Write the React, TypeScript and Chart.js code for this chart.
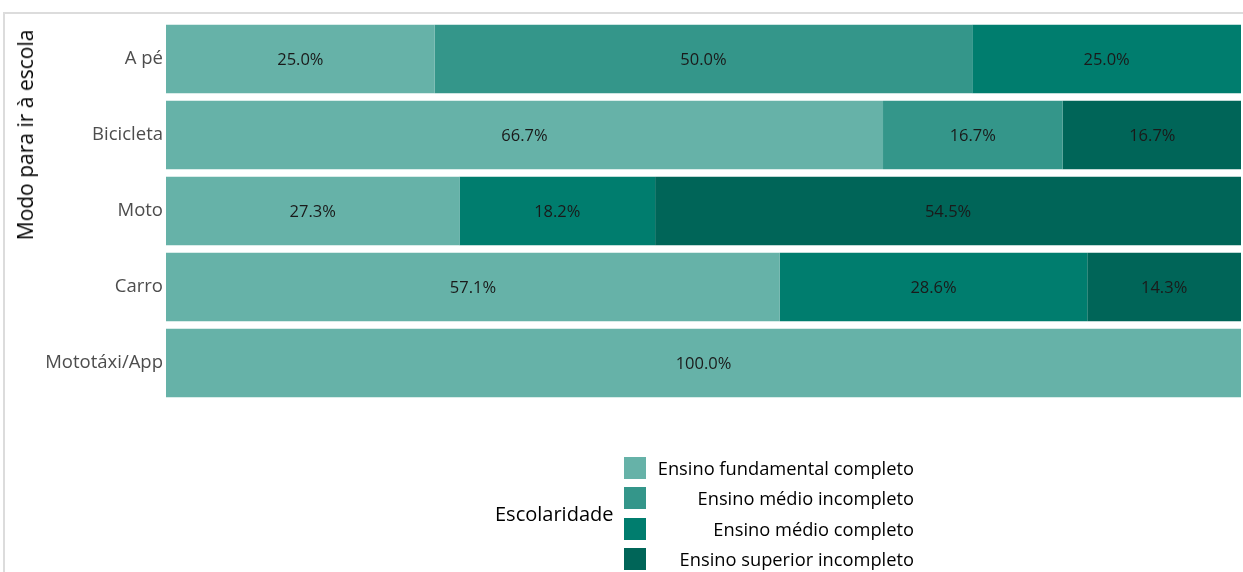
import React, { useEffect, useRef } from "react";
import { Chart, registerables } from "chart.js";

Chart.register(...registerables);

const categories = ["A pé", "Bicicleta", "Moto", "Carro", "Mototáxi/App"];
const seriesNames = [
  "Ensino fundamental completo",
  "Ensino médio incompleto",
  "Ensino médio completo",
  "Ensino superior incompleto",
];
const fundamentalCompleto = [25.0, 66.7, 27.3, 57.1, 100.0];
const medioIncompleto = [50.0, 16.7, 0, 0, 0];
const medioCompleto = [25.0, 0, 18.2, 28.6, 0];
const superiorIncompleto = [0, 16.7, 54.5, 14.3, 0];
const seriesColors = ["#66b2a8", "#34968a", "#007d6e", "#006558"];
const yTitle = "Modo para ir à escola";
const legendTitle = "Escolaridade";

const FONT = "'Open Sans', 'Noto Sans', sans-serif";

const labelPlugin = {
  id: "segLabels",
  afterDatasetsDraw(chart: any) {
    const ctx = chart.ctx;
    ctx.save();
    ctx.font = `16.5px ${FONT}`;
    ctx.fillStyle = "#1a1a1a";
    ctx.textAlign = "center";
    ctx.textBaseline = "middle";
    chart.data.datasets.forEach((ds: any, di: number) => {
      const meta = chart.getDatasetMeta(di);
      meta.data.forEach((bar: any, i: number) => {
        const v = ds.data[i];
        if (!v) return;
        const cx = (bar.x + bar.base) / 2;
        ctx.fillText(v.toFixed(1) + "%", cx, bar.y + 1.5);
      });
    });
    ctx.restore();
  },
};

export default function App() {
  const ref = useRef<HTMLCanvasElement>(null);
  useEffect(() => {
    document.body.style.margin = "0";
    const all = [fundamentalCompleto, medioIncompleto, medioCompleto, superiorIncompleto];
    const chart = new Chart(ref.current!, {
      type: "bar",
      data: {
        labels: categories,
        datasets: all.map((d, i) => ({
          label: seriesNames[i],
          data: d,
          backgroundColor: seriesColors[i],
          borderWidth: 0,
          barPercentage: 0.9,
          categoryPercentage: 1,
        })),
      },
      options: {
        indexAxis: "y",
        animation: false,
        responsive: false,
        maintainAspectRatio: false,
        layout: { padding: { top: 21, bottom: 171, right: 2, left: 0 } },
        plugins: { legend: { display: false }, tooltip: { enabled: false } },
        scales: {
          x: { stacked: true, min: 0, max: 100, display: false },
          y: {
            stacked: true,
            grid: { display: false, drawTicks: false },
            border: { display: false },
            ticks: {
              color: "#4d4d4d",
              font: { family: FONT, size: 18.5 },
              padding: 3,
            },
            afterFit: (s: any) => {
              s.width = 166;
            },
          },
        },
      },
      plugins: [labelPlugin],
    });
    return () => chart.destroy();
  }, []);

  return (
    <div style={{ position: "relative", width: 1243, height: 572, background: "#fff", overflow: "hidden", fontFamily: FONT }}>
      <div style={{ position: "absolute", left: 3, top: 12, right: 0, height: 2, background: "#dcdcdc" }} />
      <div style={{ position: "absolute", left: 3, top: 12, width: 2, bottom: 0, background: "#dcdcdc" }} />
      <canvas ref={ref} width={1243} height={572} style={{ position: "absolute", left: 0, top: 0 }} />
      <div
        style={{
          position: "absolute",
          left: 25,
          top: 135,
          transform: "translate(-50%, -50%) rotate(-90deg)",
          whiteSpace: "nowrap",
          fontSize: 21,
          color: "#000",
        }}
      >
        {yTitle}
      </div>
      <div style={{ position: "absolute", left: 495, top: 501, fontSize: 20, color: "#000", lineHeight: "26px", whiteSpace: "nowrap" }}>
        {legendTitle}
      </div>
      {seriesNames.map((n, i) => {
        const top = [457, 487, 518, 548][i];
        return (
          <React.Fragment key={n}>
            <div style={{ position: "absolute", left: 624, top, width: 22, height: 22, background: seriesColors[i] }} />
            <div
              style={{
                position: "absolute",
                right: 1243 - 914,
                top: top - 2,
                fontSize: 18.3,
                lineHeight: "26px",
                color: "#000",
                whiteSpace: "nowrap",
                textAlign: "right",
              }}
            >
              {n}
            </div>
          </React.Fragment>
        );
      })}
    </div>
  );
}
